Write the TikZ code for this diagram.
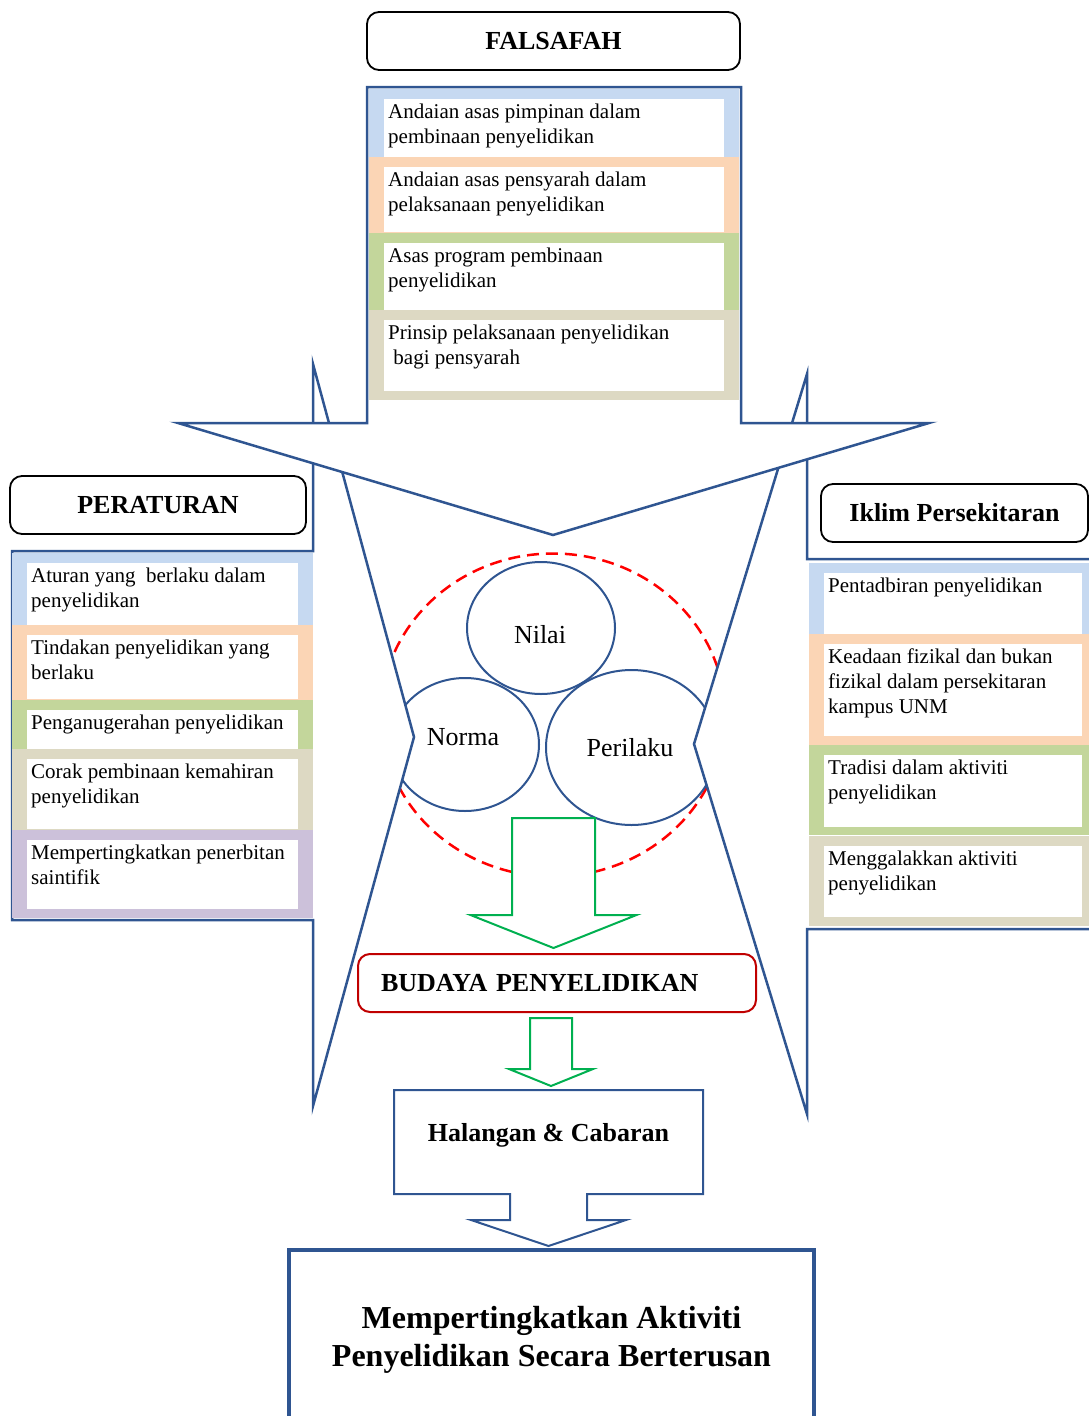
\documentclass[tikz,border=0pt]{standalone}
\usepackage{fontspec}
\setmainfont{Liberation Serif}
\usetikzlibrary{calc,shapes.geometric}
\definecolor{calloutblue}{RGB}{47,85,145}
\definecolor{bandblue}{RGB}{198,217,241}
\definecolor{bandpeach}{RGB}{251,213,181}
\definecolor{bandgreen}{RGB}{195,214,155}
\definecolor{bandtan}{RGB}{221,217,195}
\definecolor{bandlilac}{RGB}{204,193,218}
\definecolor{arrowgreen}{RGB}{0,176,80}
\definecolor{budayared}{RGB}{192,0,0}
\def\itembox[#1](#2)(#3)(#4:#5)#6{\fill[#1] (#3) rectangle (#4); \fill[white] ($(#3)+(15,10)$) rectangle ($(#4)+(-15,-#5)$); \node[itemtext] (#2) at ($(#3)+(15,10)$) {#6};}
\def\blockdown[#1](#2)(#3:#4:#5:#6){\draw[#1] ($(#2)+(-#3,0)$) -- ($(#2)+(#3,0)$) -- ($(#2)+(#3,#4)$) -- ($(#2)+(#5,#4)$) -- ($(#2)+(0,#4+#6)$) -- ($(#2)+(-#5,#4)$) -- ($(#2)+(-#3,#4)$) -- cycle;}

\begin{document}
\begin{tikzpicture}[x=1pt,y=-1pt,
	outline/.style={draw=calloutblue, line width=2.5pt, fill=white},
	header/.style={draw=black, line width=1.8pt, rounded corners=12pt, fill=white, minimum height=58pt, font=\fontsize{26}{30}\selectfont\bfseries},
	itemtext/.style={anchor=north west, align=left, inner xsep=4pt, inner ysep=5pt, font=\fontsize{21}{25}\selectfont},
	bubble/.style={ellipse, draw=calloutblue, line width=2pt, fill=white},
	bubbletext/.style={inner sep=0pt, font=\fontsize{26}{30}\selectfont},
	arrowshape/.style={draw=arrowgreen, line width=2pt, fill=white}]
			%%%%% START %%%%%
			\useasboundingbox (0,0) rectangle (1088,1416);
			
			\draw[red, line width=2.5pt, dash pattern=on 12pt off 7pt] (553,715) ellipse [x radius=172, y radius=161.5];
			
			\node[bubble, minimum width=171pt, minimum height=155pt] (perilaku) at (631.5,747.5) {};
			\node[bubble, minimum width=148pt, minimum height=133pt] (norma) at (465,744.5) {};
			\node[bubble, minimum width=148pt, minimum height=132pt] (nilai) at (541,628) {};
			\node[bubbletext] (nilaitext) at (540,635) {Nilai};
			\node[bubbletext] (normatext) at (463,737) {Norma};
			\node[bubbletext] (perilakutext) at (630,748) {Perilaku};
			
			% peraturan / iklim / falsafah
			\draw[outline] (12,551) -- (313,551) -- (313,364) -- (414,737) -- (313,1106) -- (313,920) -- (12,920) -- cycle;
			\draw[outline] (1100,559) -- (807,559) -- (807,374) -- (694,744) -- (807,1114) -- (807,929) -- (1100,929) -- cycle;
			\draw[outline] (178,423) -- (367,423) -- (367,87) -- (741,87) -- (741,423) -- (929,423) -- (553,535) -- cycle;
			
			\node[header, minimum width=373pt] (falsafah) at (553.5,41) {FALSAFAH};
			\node[header, minimum width=296pt] (peraturan) at (158,505) {PERATURAN};
			\node[header, minimum width=267pt] (iklim) at (954.5,513) {Iklim Persekitaran};
			
			\itembox[bandblue](falsafahA)(369,89)(739,157:0){Andaian asas pimpinan dalam\\pembinaan penyelidikan}
			\itembox[bandpeach](falsafahB)(369,157)(739,233:1){Andaian asas pensyarah dalam\\pelaksanaan penyelidikan}
			\itembox[bandgreen](falsafahC)(369,233)(739,310:0){Asas program pembinaan\\penyelidikan}
			\itembox[bandtan](falsafahD)(369,310)(739,400:9){Prinsip pelaksanaan penyelidikan\\\hspace*{0.25em}bagi pensyarah}
			
			\itembox[bandblue](aturanA)(12,553)(313,625:0){Aturan yang\ \ berlaku dalam\\penyelidikan}
			\itembox[bandpeach](aturanB)(12,625)(313,700:1){Tindakan penyelidikan yang\\berlaku}
			\itembox[bandgreen](aturanC)(12,700)(313,749:0){Penganugerahan penyelidikan}
			\itembox[bandtan](aturanD)(12,749)(313,830:1){Corak pembinaan kemahiran\\penyelidikan}
			\itembox[bandlilac](aturanE)(12,830)(313,918:9){Mempertingkatkan penerbitan\\saintifik}
			
			\itembox[bandblue](iklimA)(809,563)(1097,634:0){Pentadbiran penyelidikan}
			\itembox[bandpeach](iklimB)(809,634)(1097,745:9){Keadaan fizikal dan bukan\\fizikal dalam persekitaran\\kampus UNM}
			\itembox[bandgreen](iklimC)(809,745)(1097,835:8){Tradisi dalam aktiviti\\penyelidikan}
			\itembox[bandtan](iklimD)(809,836)(1097,926:9){Menggalakkan aktiviti\\penyelidikan}
			
			% budaya dan hasil
			\blockdown[arrowshape](553.5,818)(41.5:97:83:33)
			\node[draw=budayared, line width=2pt, rounded corners=12pt, fill=white, text width=352pt, inner xsep=23pt, minimum height=58pt, align=left, font=\fontsize{26}{30}\selectfont\bfseries] (budaya) at (557,983) {BUDAYA PENYELIDIKAN};
			\blockdown[arrowshape](551,1018)(21:51:42:17)
			
			\draw[outline, line width=2pt] (394,1090) -- (703,1090) -- (703,1194) -- (587,1194) -- (587,1220) -- (626,1220) -- (548.5,1246) -- (471,1220) -- (510,1220) -- (510,1194) -- (394,1194) -- cycle;
			\node[font=\fontsize{26}{30}\selectfont\bfseries] (halangan) at (548.5,1135) {Halangan \& Cabaran};
			
			\node[draw=calloutblue, line width=4pt, minimum width=525pt, minimum height=180pt, align=center, font=\fontsize{32}{37.5}\selectfont\bfseries] (goal) at (551.5,1340) {Mempertingkatkan Aktiviti\\Penyelidikan Secara Berterusan};
			%%%%% END %%%%%
\end{tikzpicture}
\end{document}
